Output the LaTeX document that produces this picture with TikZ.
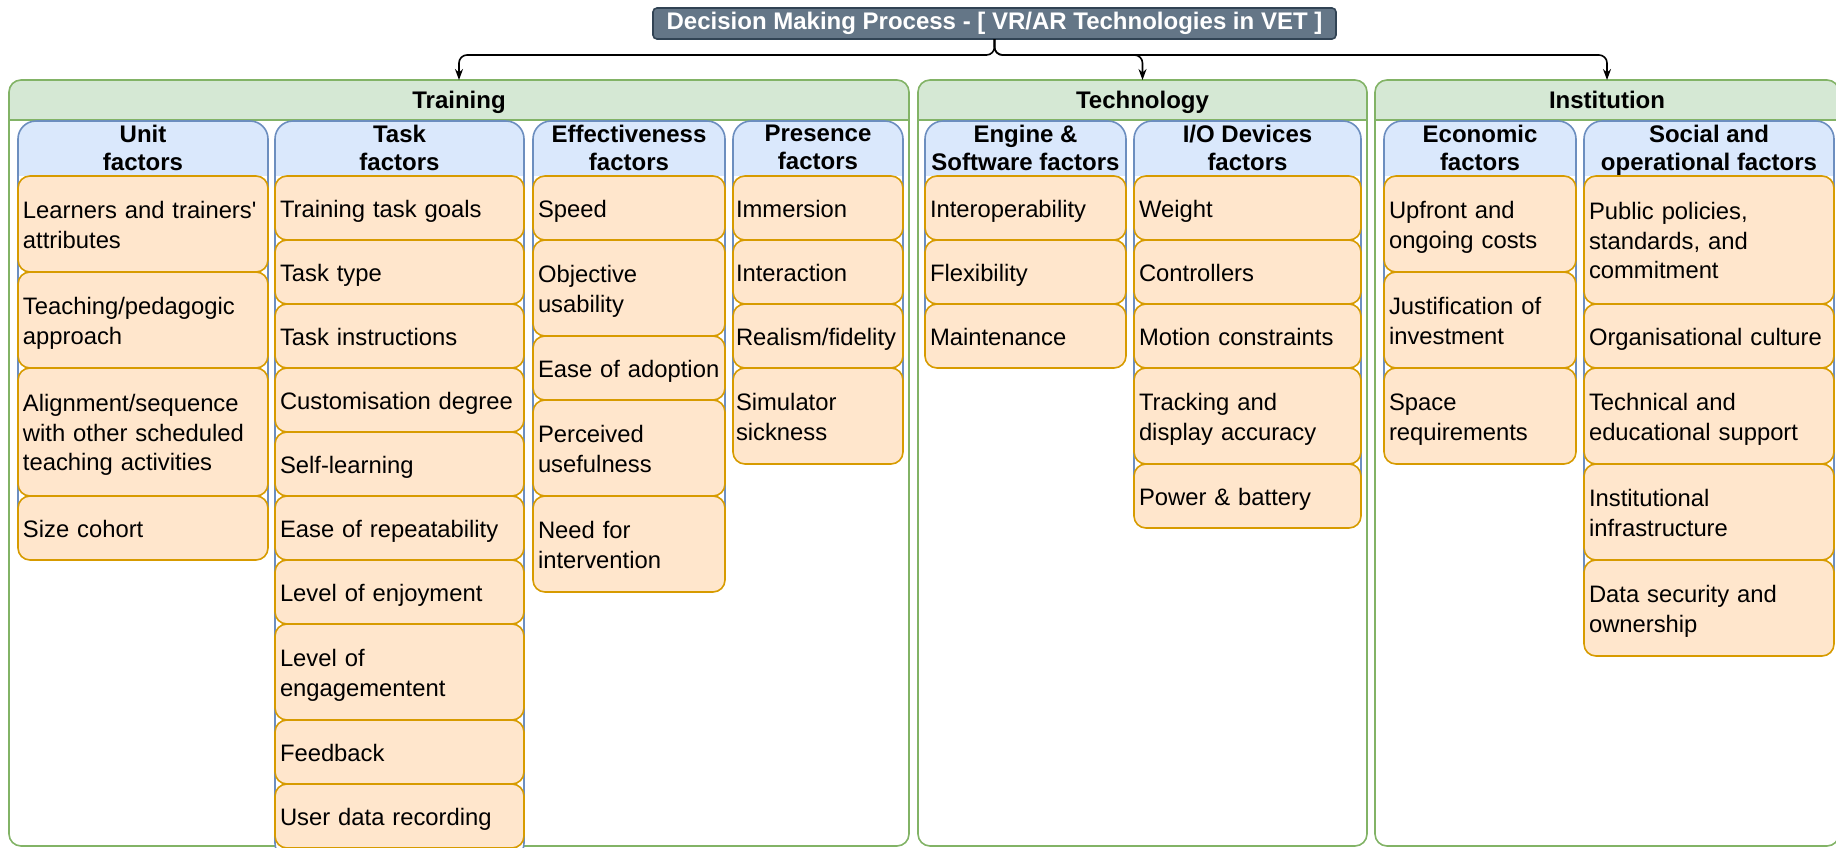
\documentclass[tikz,border=0pt]{standalone}
\usepackage{fontspec}
\setmainfont{Liberation Sans}
\usetikzlibrary{positioning,arrows.meta}

\definecolor{gfill}{HTML}{D5E8D4}
\definecolor{gline}{HTML}{82B366}
\definecolor{bfill}{HTML}{DAE8FC}
\definecolor{bline}{HTML}{6C8EBF}
\definecolor{ofill}{HTML}{FFE6CC}
\definecolor{oline}{HTML}{D79B00}
\definecolor{tfill}{HTML}{647687}
\definecolor{tline}{HTML}{314354}

\newcommand\bodyfont{\fontsize{23.8}{29.5}\selectfont\hyphenpenalty=10000\relax}
\newcommand\headfont{\bfseries\fontsize{24}{28}\selectfont}
% fixed first-line height and last-line depth, so every label sits alike
\newcommand\bodytop{\rule{0pt}{24pt}}
\newcommand\bodybot{\rule[-5.5pt]{0pt}{5.5pt}}
\newcommand\headtop{\rule{0pt}{18pt}}
\newcommand\headbot{\rule[-6pt]{0pt}{6pt}}

\begin{document}
\begin{tikzpicture}[x=1pt, y=-1pt,
  every node/.style={inner sep=0pt, outer sep=0pt},
  rootbox/.style={draw=tline, fill=tfill, text=white, font=\headfont,
    rounded corners=4pt, line width=1.6pt, minimum width=683pt, minimum height=31pt},
  groupbox/.style={draw=gline, fill=white, rounded corners=12pt, line width=1.6pt,
    anchor=north west, minimum height=766pt,
    path picture={
      \fill[gfill, sharp corners] (path picture bounding box.north west)
        rectangle ([yshift=-40pt]path picture bounding box.north east);
      \draw[gline, line width=1.6pt, sharp corners]
        ([yshift=-40pt]path picture bounding box.north west)
        -- ([yshift=-40pt]path picture bounding box.north east);}},
  grouptitle/.style={font=\headfont, text height=18pt, text depth=6pt},
  lanebox/.style={draw=bline, fill=white, rounded corners=18pt, line width=1.6pt,
    anchor=north west,
    path picture={
      \fill[bfill, sharp corners] (path picture bounding box.north west)
        rectangle ([yshift=-55pt]path picture bounding box.north east);}},
  lanetitle/.style={font=\headfont, align=center,
    execute at begin node=\headtop, execute at end node=\headbot},
  factor/.style={draw=oline, fill=ofill, rounded corners=12pt, line width=1.6pt,
    align=left, font=\bodyfont, inner xsep=5pt,
    execute at begin node=\bodytop, execute at end node=\bodybot},
  single/.style={minimum height=64pt},
  double/.style={minimum height=96pt},
  triple/.style={minimum height=128pt},
  wU/.style={minimum width=250pt, text width=240pt},
  wT/.style={minimum width=249pt, text width=239pt},
  wE/.style={minimum width=192pt, text width=182pt},
  wP/.style={minimum width=170pt, text width=164pt, inner xsep=3pt},
  wS/.style={minimum width=201pt, text width=191pt},
  wD/.style={minimum width=227pt, text width=217pt},
  wC/.style={minimum width=192pt, text width=182pt},
  wO/.style={minimum width=250pt, text width=240pt},
  link/.style={-{Stealth[length=11pt,width=8pt]}, line width=1.6pt, rounded corners=8pt}
]
\useasboundingbox (0,0) rectangle (1836,847);

% top-level decision node
\node[rootbox] (root) at (994.5,23.5) {Decision Making Process - [ VR/AR Technologies in VET ]};

% the three main groups
\node[groupbox, minimum width=900pt] (training) at (9,80) {};
\node[grouptitle] (trainingT) at ([yshift=-22pt]training.north) {Training};
\node[groupbox, minimum width=449pt] (technology) at (918,80) {};
\node[grouptitle] (technologyT) at ([yshift=-22pt]technology.north) {Technology};
\node[groupbox, minimum width=464pt] (institution) at (1375,80) {};
\node[grouptitle] (institutionT) at ([yshift=-22pt]institution.north) {Institution};

% connectors from the root
\draw[link] (root.south) -- ++(0,16) -| (training.north);
\draw[link] (root.south) -- ++(0,16) -| (technology.north);
\draw[link] (root.south) -- ++(0,16) -| (institution.north);

% ---- Training: unit factors
\node[lanebox, minimum width=250pt, minimum height=439pt] (unit) at (18,121) {};
\node[lanetitle] (unitT) at ([yshift=-29.5pt]unit.north) {Unit\\factors};
\node[factor, wU, double, anchor=north west] (u1) at (18,176) {Learners and trainers\textquotesingle\\attributes};
\node[factor, wU, double, below=0pt of u1] (u2) {Teaching/pedagogic\\approach};
\node[factor, wU, triple, below=0pt of u2] (u3) {Alignment/sequence\\with other scheduled\\teaching activities};
\node[factor, wU, single, below=0pt of u3] (u4) {Size cohort};

% ---- Training: task factors
\node[lanebox, minimum width=249pt, minimum height=740pt] (task) at (275,121) {};
\node[lanetitle] (taskT) at ([yshift=-29.5pt]task.north) {Task\\factors};
\node[factor, wT, single, anchor=north west] (t1) at (275,176) {Training task goals};
\node[factor, wT, single, below=0pt of t1] (t2) {Task type};
\node[factor, wT, single, below=0pt of t2] (t3) {Task instructions};
\node[factor, wT, single, below=0pt of t3] (t4) {Customisation degree};
\node[factor, wT, single, below=0pt of t4] (t5) {Self-learning};
\node[factor, wT, single, below=0pt of t5] (t6) {Ease of repeatability};
\node[factor, wT, single, below=0pt of t6] (t7) {Level of enjoyment};
\node[factor, wT, double, below=0pt of t7] (t8) {Level of\\engagementent};
\node[factor, wT, single, below=0pt of t8] (t9) {Feedback};
\node[factor, wT, single, below=0pt of t9] (t10) {User data recording};

% ---- Training: effectiveness factors
\node[lanebox, minimum width=192pt, minimum height=471pt] (eff) at (533,121) {};
\node[lanetitle] (effT) at ([yshift=-29.5pt]eff.north) {Effectiveness\\factors};
\node[factor, wE, single, anchor=north west] (e1) at (533,176) {Speed};
\node[factor, wE, double, below=0pt of e1] (e2) {Objective\\usability};
\node[factor, wE, single, below=0pt of e2] (e3) {Ease of adoption};
\node[factor, wE, double, below=0pt of e3] (e4) {Perceived\\usefulness};
\node[factor, wE, double, below=0pt of e4] (e5) {Need for\\intervention};

% ---- Training: presence factors
\node[lanebox, minimum width=170pt, minimum height=343pt] (pres) at (733,121) {};
\node[lanetitle] (presT) at ([yshift=-29.5pt]pres.north) {Presence\\factors};
\node[factor, wP, single, anchor=north west] (p1) at (733,176) {Immersion};
\node[factor, wP, single, below=0pt of p1] (p2) {Interaction};
\node[factor, wP, single, below=0pt of p2] (p3) {Realism/fidelity};
\node[factor, wP, double, below=0pt of p3] (p4) {Simulator\\sickness};

% ---- Technology: engine & software factors
\node[lanebox, minimum width=201pt, minimum height=247pt] (eng) at (925,121) {};
\node[lanetitle] (engT) at ([yshift=-29.5pt]eng.north) {Engine \&\\Software factors};
\node[factor, wS, single, anchor=north west] (s1) at (925,176) {Interoperability};
\node[factor, wS, single, below=0pt of s1] (s2) {Flexibility};
\node[factor, wS, single, below=0pt of s2] (s3) {Maintenance};

% ---- Technology: I/O devices factors
\node[lanebox, minimum width=227pt, minimum height=407pt] (io) at (1134,121) {};
\node[lanetitle] (ioT) at ([yshift=-29.5pt]io.north) {I/O Devices\\factors};
\node[factor, wD, single, anchor=north west] (d1) at (1134,176) {Weight};
\node[factor, wD, single, below=0pt of d1] (d2) {Controllers};
\node[factor, wD, single, below=0pt of d2] (d3) {Motion constraints};
\node[factor, wD, double, below=0pt of d3] (d4) {Tracking and\\display accuracy};
\node[factor, wD, single, below=0pt of d4] (d5) {Power \& battery};

% ---- Institution: economic factors
\node[lanebox, minimum width=192pt, minimum height=343pt] (econ) at (1384,121) {};
\node[lanetitle] (econT) at ([yshift=-29.5pt]econ.north) {Economic\\factors};
\node[factor, wC, double, anchor=north west] (c1) at (1384,176) {Upfront and\\ongoing costs};
\node[factor, wC, double, below=0pt of c1] (c2) {Justification of\\investment};
\node[factor, wC, double, below=0pt of c2] (c3) {Space\\requirements};

% ---- Institution: social and operational factors
\node[lanebox, minimum width=250pt, minimum height=535pt] (soc) at (1584,121) {};
\node[lanetitle] (socT) at ([yshift=-29.5pt]soc.north) {Social and\\operational factors};
\node[factor, wO, triple, anchor=north west] (o1) at (1584,176) {Public policies,\\standards, and\\commitment};
\node[factor, wO, single, below=0pt of o1] (o2) {Organisational culture};
\node[factor, wO, double, below=0pt of o2] (o3) {Technical and\\educational support};
\node[factor, wO, double, below=0pt of o3] (o4) {Institutional\\infrastructure};
\node[factor, wO, double, below=0pt of o4] (o5) {Data security and\\ownership};
\end{tikzpicture}
\end{document}
